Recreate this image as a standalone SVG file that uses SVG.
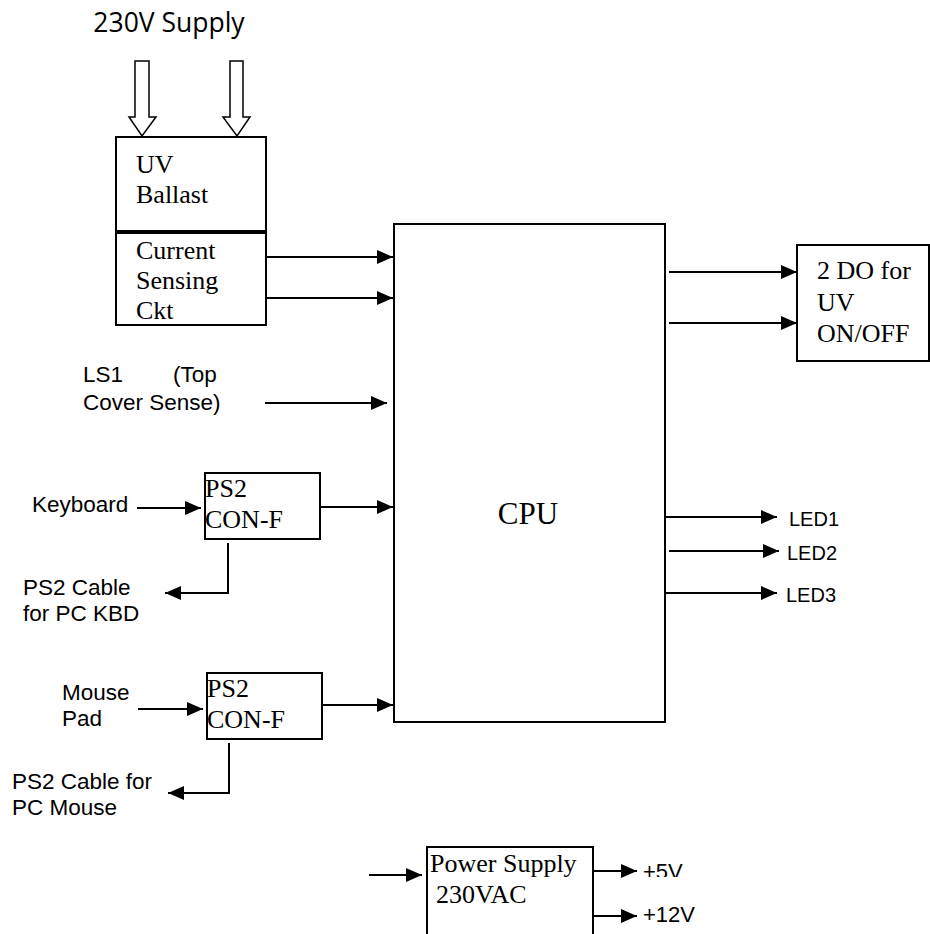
<svg xmlns="http://www.w3.org/2000/svg" width="930" height="934" viewBox="0 0 930 934">
<style>
.box{fill:#fff;stroke:#000;stroke-width:2}
.ar{fill:none;stroke:#000;stroke-width:2;marker-end:url(#ah)}
.tr{font-family:"Liberation Serif",serif;font-size:26px;fill:#000}
.sa{font-family:"Liberation Sans",Arial,sans-serif;font-size:22.5px;fill:#000}
.led{font-family:"Liberation Sans",Arial,sans-serif;font-size:20px;fill:#000}
.pv{font-family:"Liberation Sans",Arial,sans-serif;font-size:22px;fill:#000}
.hol{fill:#fff;stroke:#000;stroke-width:1.5}
</style>
<defs>
<marker id="ah" markerUnits="userSpaceOnUse" markerWidth="17" markerHeight="14" refX="16" refY="7" orient="auto">
<path d="M0,0 L16,7 L0,14 Z" fill="#000"/>
</marker>
<clipPath id="cl5"><rect x="600" y="840" width="120" height="37"/></clipPath>
<clipPath id="cl12"><rect x="600" y="890" width="120" height="33"/></clipPath>
</defs>
<text x="169" y="32" text-anchor="middle" font-family="'Open Sans','Noto Sans',sans-serif" font-size="26.5" fill="#000">230V Supply</text>
<g id="supply-arrows">
<path class="hol" d="M135,61 H149 V117 H156 L142,136 L129,117 H135 Z"/>
<path class="hol" d="M230,61 H243 V117 H250 L237,136 L223,117 H230 Z"/>
</g>
<g id="uv-ballast">
<rect class="box" x="116" y="137" width="150" height="94"/>
<text class="tr" x="136" y="173">UV</text>
<text class="tr" x="136" y="203">Ballast</text>
</g>
<g id="current-sensing">
<rect class="box" x="116" y="233" width="150" height="92"/>
<text class="tr" x="136" y="259">Current</text>
<text class="tr" x="136" y="289">Sensing</text>
<text class="tr" x="136" y="319">Ckt</text>
</g>
<g id="cpu">
<rect class="box" x="394" y="224" width="271" height="498"/>
<text x="528" y="524" text-anchor="middle" font-family="'Liberation Serif',serif" font-size="31" fill="#000">CPU</text>
</g>
<g id="do-box">
<rect class="box" x="797" y="245" width="132" height="116"/>
<text class="tr" x="817" y="279">2 DO for</text>
<text class="tr" x="817" y="311">UV</text>
<text class="tr" x="817" y="342">ON/OFF</text>
</g>
<g id="ls1">
<text class="sa" x="83" y="382">LS1</text>
<text class="sa" x="173" y="382">(Top</text>
<text class="sa" x="83" y="410">Cover Sense)</text>
</g>
<g id="ps2-kbd">
<rect class="box" x="205" y="473" width="115" height="66"/>
<text class="tr" x="205" y="497">PS2</text>
<text class="tr" x="205" y="528">CON-F</text>
</g>
<g id="keyboard"><text class="sa" x="32" y="512">Keyboard</text></g>
<g id="kbd-cable">
<text class="sa" x="23" y="595">PS2 Cable</text>
<text class="sa" x="23" y="621">for PC KBD</text>
</g>
<g id="ps2-mouse">
<rect class="box" x="207" y="673" width="115" height="66"/>
<text class="tr" x="207" y="697">PS2</text>
<text class="tr" x="207" y="728">CON-F</text>
</g>
<g id="mouse-pad">
<text class="sa" x="62" y="700">Mouse</text>
<text class="sa" x="62" y="726">Pad</text>
</g>
<g id="mouse-cable">
<text class="sa" x="12" y="789">PS2 Cable for</text>
<text class="sa" x="12" y="815">PC Mouse</text>
</g>
<g id="leds">
<text class="led" x="789" y="526">LED1</text>
<text class="led" x="787" y="560">LED2</text>
<text class="led" x="786" y="602">LED3</text>
</g>
<g id="power-supply">
<rect class="box" x="427" y="847" width="166" height="100"/>
<text class="tr" x="430" y="872">Power Supply</text>
<text class="tr" x="436" y="903">230VAC</text>
</g>
<g id="ps-outputs">
<text class="pv" x="643" y="879" clip-path="url(#cl5)">+5V</text>
<text class="pv" x="643" y="922" clip-path="url(#cl12)">+12V</text>
</g>
<g id="connectors">
<line class="ar" x1="266" y1="257" x2="393" y2="257"/>
<line class="ar" x1="266" y1="298" x2="393" y2="298"/>
<line class="ar" x1="669" y1="272" x2="797" y2="272"/>
<line class="ar" x1="669" y1="323" x2="797" y2="323"/>
<line class="ar" x1="265" y1="403" x2="387" y2="403"/>
<line class="ar" x1="137" y1="508" x2="201" y2="508"/>
<line class="ar" x1="320" y1="507" x2="393" y2="507"/>
<polyline class="ar" points="228,543 228,593 165,593"/>
<line class="ar" x1="138" y1="709" x2="203" y2="709"/>
<line class="ar" x1="322" y1="705" x2="393" y2="705"/>
<polyline class="ar" points="229,743 229,793 168,793"/>
<line class="ar" x1="665" y1="517" x2="777" y2="517"/>
<line class="ar" x1="669" y1="551" x2="779" y2="551"/>
<line class="ar" x1="665" y1="593" x2="777" y2="593"/>
<line class="ar" x1="369" y1="875" x2="422" y2="875"/>
<line class="ar" x1="593" y1="871" x2="637" y2="871"/>
<line class="ar" x1="593" y1="916" x2="637" y2="916"/>
</g>
</svg>
